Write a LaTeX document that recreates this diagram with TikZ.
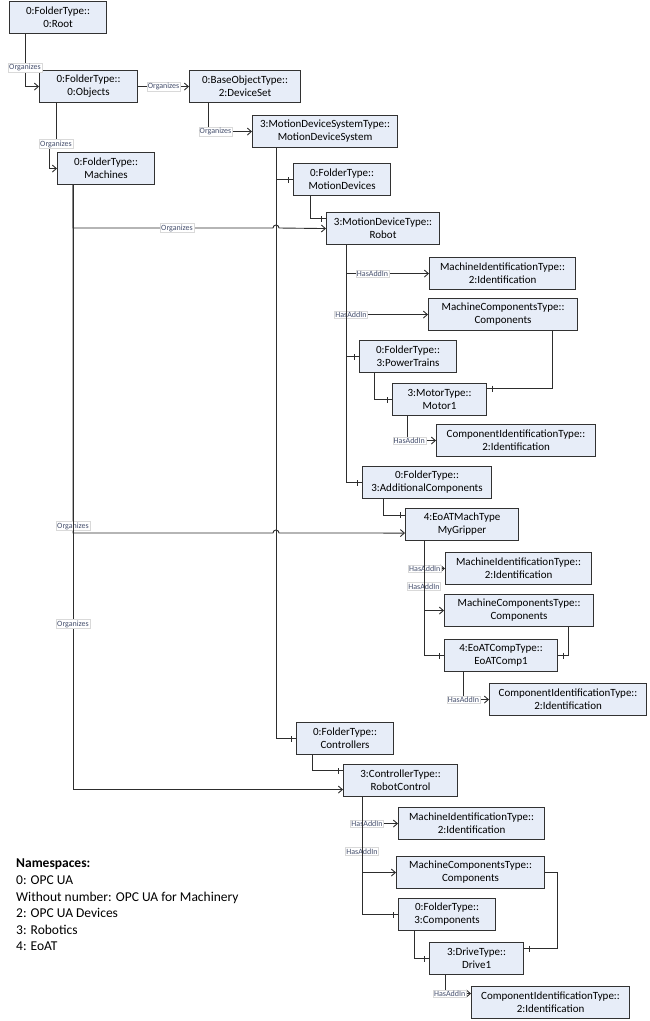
\documentclass[tikz,border=0pt]{standalone}
\usepackage{fontspec}
\setmainfont{Carlito}
\usetikzlibrary{arrows.meta, decorations.markings}

\begin{document}
\begin{tikzpicture}[x=1pt, y=-1pt,
    box/.style={draw=boxline, fill=boxfill, line width=1.1pt, anchor=north west, minimum height=32, inner sep=0pt, align=center, font=\fontsize{11}{13}\selectfont},
    lbl/.style={fill=white, draw=black!15, line width=0.4pt, inner sep=1pt, text=lbltext, font=\fontsize{8}{9}\selectfont},
    link/.style={draw=linkline, line width=0.9pt},
    org/.style={link, -{Straight Barb[length=4pt,width=7pt]}},
    hascomp/.style={link, postaction={decorate}, decoration={markings, mark=at position -5pt with {\draw[linkline, line width=0.9pt] (0,-3pt) -- (0,3pt);}}}]
    \definecolor{boxfill}{RGB}{231,237,248}
    \definecolor{boxline}{RGB}{50,50,50}
    \definecolor{linkline}{RGB}{45,45,45}
    \definecolor{lbltext}{RGB}{70,80,110}

    \useasboundingbox (0,0) rectangle (649,1021);

    % Nodes
    \node[box, minimum width=97] (root) at (9,1) {0:FolderType::\\0:Root};
    \node[box, minimum width=98] (obj) at (39,70) {0:FolderType::\\0:Objects};
    \node[box, minimum width=111] (devset) at (189,70) {0:BaseObjectType::\\2:DeviceSet};
    \node[box, minimum width=145] (mds) at (252,115) {3:MotionDeviceSystemType::\\MotionDeviceSystem};
    \node[box, minimum width=97] (mach) at (57,152) {0:FolderType::\\Machines};
    \node[box, minimum width=97] (motdev) at (293,163) {0:FolderType::\\MotionDevices};
    \node[box, minimum width=113] (robot) at (326,212) {3:MotionDeviceType::\\Robot};
    \node[box, minimum width=146] (rmi) at (429,257) {MachineIdentificationType::\\2:Identification};
    \node[box, minimum width=149] (rmc) at (428,298) {MachineComponentsType::\\Components};
    \node[box, minimum width=97] (ptr) at (359,340) {0:FolderType::\\3:PowerTrains};
    \node[box, minimum width=94] (motor) at (392,383) {3:MotorType::\\Motor1};
    \node[box, minimum width=159] (mci) at (436,424) {ComponentIdentificationType::\\2:Identification};
    \node[box, minimum width=129] (addc) at (362,466) {0:FolderType::\\3:AdditionalComponents};
    \node[box, minimum width=113] (grip) at (405,508) {4:EoATMachType\\MyGripper};
    \node[box, minimum width=146] (gmi) at (445,552) {MachineIdentificationType::\\2:Identification};
    \node[box, minimum width=149] (gmc) at (444,594) {MachineComponentsType::\\Components};
    \node[box, minimum width=113] (eoac) at (444,639) {4:EoATCompType::\\EoATComp1};
    \node[box, minimum width=157] (eci) at (489,683) {ComponentIdentificationType::\\2:Identification};
    \node[box, minimum width=97] (ctrl) at (296,722) {0:FolderType::\\Controllers};
    \node[box, minimum width=114] (rc) at (343,764) {3:ControllerType::\\RobotControl};
    \node[box, minimum width=146] (cmi) at (398,807) {MachineIdentificationType::\\2:Identification};
    \node[box, minimum width=148] (cmc) at (396,856) {MachineComponentsType::\\Components};
    \node[box, minimum width=97] (comp) at (398,898) {0:FolderType::\\3:Components};
    \node[box, minimum width=94] (drive) at (429,942) {3:DriveType::\\Drive1};
    \node[box, minimum width=158] (dci) at (471,986) {ComponentIdentificationType::\\2:Identification};

    \node[anchor=north west, align=left, inner sep=0pt, font=\fontsize{13.5}{16.6}\selectfont] (ns) at (16,859)
        {\textbf{Namespaces:}\\0: OPC UA\\Without number: OPC UA for Machinery\\2: OPC UA Devices\\3: Robotics\\4: EoAT};

    % Organizes
    \draw[org] ([xshift=16pt]root.south west) |- node[lbl, pos=0.32] {Organizes} (obj.west);
    \draw[org] (obj.east) -- node[lbl] {Organizes} (devset.west);
    \draw[org] ([xshift=17pt]obj.south west) -- ++(0,41) node[lbl] {Organizes} -- ++(-7,0) |- (mach.west);
    \draw[org] ([xshift=19pt]devset.south west) |- node[lbl, pos=0.585] {Organizes} (mds.west);
    \draw[org] ([xshift=16pt]mach.south west) |- node[lbl, pos=0.76] {Organizes} (273,228) arc[start angle=180, end angle=360, radius=3] -- (robot.west);
    \draw[org] ([xshift=16pt]mach.south west) |- node[lbl, pos=0.49] {Organizes} (273,533) arc[start angle=180, end angle=360, radius=3] -- ([yshift=-8.5pt]grip.west);
    \draw[org] ([xshift=16pt]mach.south west) |- node[lbl, pos=0.363] {Organizes} ([yshift=-9pt]rc.west);

    % Motion devices
    \draw[hascomp] ([xshift=24pt]mds.south west) |- (motdev.west);
    \draw[hascomp] ([xshift=24pt]mds.south west) |- (ctrl.west);
    \draw[hascomp] ([xshift=17pt]motdev.south west) |- ([yshift=10pt]robot.west);

    % Robot
    \draw[org] ([xshift=20pt]robot.south west) |- node[lbl, pos=0.66] {HasAddIn} (rmi.west);
    \draw[org] ([xshift=20pt]robot.south west) |- node[lbl, pos=0.53] {HasAddIn} (rmc.west);
    \draw[hascomp] ([xshift=20pt]robot.south west) |- (ptr.west);
    \draw[hascomp] ([xshift=20pt]robot.south west) |- (addc.west);
    \draw[hascomp] ([xshift=15pt]ptr.south west) |- (motor.west);
    \draw[hascomp] ([xshift=124pt]rmc.south west) |- ([yshift=11pt]motor.east);
    \draw[org] ([xshift=15pt]motor.south west) |- node[lbl, pos=0.54] {HasAddIn} (mci.west);
    \draw[hascomp] ([xshift=21pt]addc.south west) |- ([yshift=9.5pt]grip.west);

    % Gripper
    \draw[org] ([xshift=19pt]grip.south west) |- node[lbl, pos=0.52] {HasAddIn} (gmi.west);
    \draw[org] ([xshift=19pt]grip.south west) |- node[lbl, pos=0.326] {HasAddIn} (gmc.west);
    \draw[hascomp] ([xshift=19pt]grip.south west) |- (eoac.west);
    \draw[hascomp] ([xshift=124pt]gmc.south west) |- (eoac.east);
    \draw[org] ([xshift=19pt]eoac.south west) |- node[lbl, pos=0.51] {HasAddIn} (eci.west);

    % Controller
    \draw[hascomp] ([xshift=16pt]ctrl.south west) |- ([yshift=10pt]rc.west);
    \draw[org] ([xshift=19pt]rc.south west) |- node[lbl, pos=0.57] {HasAddIn} (cmi.west);
    \draw[org] ([xshift=19pt]rc.south west) |- node[lbl, pos=0.36] {HasAddIn} (cmc.west);
    \draw[hascomp] ([xshift=19pt]rc.south west) |- (comp.west);
    \draw[hascomp] (cmc.east) -- ++(12,0) |- ([yshift=10pt]drive.east);
    \draw[hascomp] ([xshift=16pt]comp.south west) |- (drive.west);
    \draw[org] ([xshift=16pt]drive.south west) |- node[lbl, pos=0.59] {HasAddIn} ([yshift=9pt]dci.west);
\end{tikzpicture}
\end{document}
